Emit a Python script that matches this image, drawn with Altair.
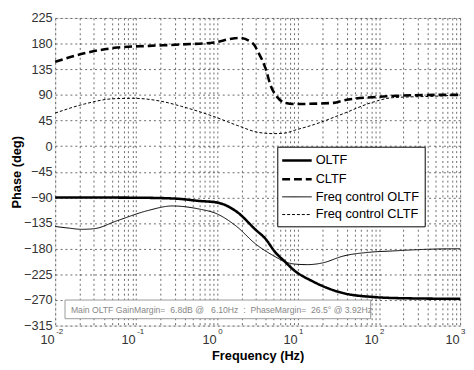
import altair as alt
import pandas as pd

series_names = ["OLTF", "CLTF", "Freq control OLTF", "Freq control CLTF"]

oltf_f = [0.01, 0.1, 0.3, 0.58, 1.0, 1.74, 3.0, 3.97, 5.2, 6.9, 9.1, 14.5, 36, 89, 200, 1000]
oltf_v = [-90, -90.5, -92, -96, -99, -115, -147, -163, -186, -203, -219, -236, -258, -265, -267, -268]

cltf_f = [0.01, 0.0229, 0.058, 0.145, 0.36, 0.91, 1.58, 1.88, 2.77, 3.27, 3.97, 4.56, 5.53, 6.9, 9.1, 27.5, 36, 83, 560, 1000]
cltf_v = [148, 163, 173, 176, 178.5, 182, 189, 190, 180, 163, 136, 107, 86, 76, 74, 76, 80, 86, 90, 90]

fc_oltf_f = [0.01, 0.015, 0.021, 0.03, 0.058, 0.14, 0.28, 0.58, 1.0, 1.74, 3.0, 5.2, 6.9, 9.1, 13, 20, 36, 80, 145, 400, 1000]
fc_oltf_v = [-141, -144, -146, -145, -131, -113, -105, -110, -119, -141, -172, -194, -203, -207, -208, -205, -193, -186, -184, -181, -180]

fc_cltf_f = [0.01, 0.023, 0.05, 0.09, 0.2, 0.36, 0.91, 1.8, 3.27, 5.0, 6.9, 9.1, 15.8, 36, 83, 145, 560, 1000]
fc_cltf_v = [58, 74, 83, 84, 79, 70, 52, 36, 24, 22, 23, 28, 38, 57, 77, 85, 88, 90]

decades = [0.01, 0.1, 1, 10, 100, 1000]
exponents = ["-2", "-1", "0", "1", "2", "3"]
minor_ticks = [m * d for d in decades[:-1] for m in range(2, 10)]
y_ticks = list(range(-315, 226, 45))

annotation = "Main OLTF GainMargin=\u00a0\u00a06.8dB @\u00a0\u00a0\u00a06.10Hz\u00a0\u00a0:\u00a0\u00a0PhaseMargin=\u00a0\u00a026.5° @ 3.92Hz"

rows = []
for name, fs, vs in [(series_names[0], oltf_f, oltf_v), (series_names[1], cltf_f, cltf_v),
                     (series_names[2], fc_oltf_f, fc_oltf_v), (series_names[3], fc_cltf_f, fc_cltf_v)]:
    for f, v in zip(fs, vs):
        rows.append({"series": name, "freq": f, "phase": v})
df = pd.DataFrame(rows)

W, H = 412, 313
FONT = "Liberation Sans"

xscale = alt.Scale(type="log", domain=[0.01, 1000], nice=False)
yscale = alt.Scale(domain=[-315, 225], nice=False, zero=False)

x_axis = alt.Axis(
    values=sorted(decades + minor_ticks), title="Frequency (Hz)",
    labelExpr="abs(log(datum.value)/LN10 - round(log(datum.value)/LN10)) < 0.001 ? '10' : ''",
    labelOverlap=False, labelAlign="right", labelOffset=-1, labelPadding=8,
    labelFontSize=13, labelColor="#333", labelFont=FONT,
    titleFontSize=13, titleFontWeight="bold", titleFont=FONT, titlePadding=4, titleColor="black",
    grid=True, gridDash=[2, 3], gridColor="#444", gridWidth=0.8,
    ticks=False, domain=False,
)
y_axis = alt.Axis(
    values=y_ticks, title="Phase (deg)",
    labelFontSize=13, labelColor="#333", labelFont=FONT, labelPadding=3,
    titleFontSize=13, titleFontWeight="bold", titleFont=FONT, titlePadding=0, titleColor="black",
    grid=True, gridDash=[2, 3], gridColor="#444", gridWidth=0.8,
    ticks=False, domain=False, labelOverlap=False,
)

legend_common = dict(
    title=None, orient="none", legendX=226, legendY=131,
    strokeColor="black", fillColor="white", padding=5, cornerRadius=0,
    labelFontSize=13, labelFont=FONT, labelColor="black", labelOffset=10,
    symbolType="M-2,0H2", symbolSize=225, symbolOffset=6, symbolStrokeColor="black",
    rowPadding=3,
)

lines = alt.Chart(df).mark_line(interpolate="monotone", color="black").encode(
    x=alt.X("freq:Q", scale=xscale, axis=x_axis),
    y=alt.Y("phase:Q", scale=yscale, axis=y_axis),
    strokeDash=alt.StrokeDash("series:N", sort=series_names,
                              scale=alt.Scale(domain=series_names, range=[[1, 0], [8, 4], [1, 0], [3, 2]]),
                              legend=alt.Legend(**legend_common)),
    strokeWidth=alt.StrokeWidth("series:N", sort=series_names,
                                scale=alt.Scale(type="ordinal", domain=series_names, range=[2.6, 2.6, 1, 1]),
                                legend=alt.Legend(**legend_common)),
    detail="series:N",
)

exp_df = pd.DataFrame({"freq": decades, "exp": exponents})
exps = alt.Chart(exp_df).mark_text(align="left", baseline="middle", fontSize=8, dx=1,
                                   color="#333", font=FONT).encode(
    x=alt.X("freq:Q", scale=xscale),
    y=alt.value(H + 7),
    text="exp:N",
)

ann_df = pd.DataFrame({"label": [annotation]})
ann_box = alt.Chart(ann_df).mark_rect(fill="white", stroke="#999", strokeWidth=1).encode(
    x=alt.value(10), x2=alt.value(321), y=alt.value(287), y2=alt.value(306),
)
ann_text = alt.Chart(ann_df).mark_text(align="left", baseline="middle", fontSize=8.8,
                                       color="#888", font=FONT).encode(
    x=alt.value(16), y=alt.value(297), text="label:N",
)

chart = alt.layer(lines, exps, ann_box, ann_text).properties(
    width=W, height=H,
    autosize=alt.AutoSizeParams(type="none"),
    padding={"left": 48, "top": 7, "right": 6, "bottom": 40},
).configure_view(stroke="black", strokeWidth=1.5).configure(font=FONT)

chart.save("out.html", embed_options={"renderer": "svg", "actions": False})
